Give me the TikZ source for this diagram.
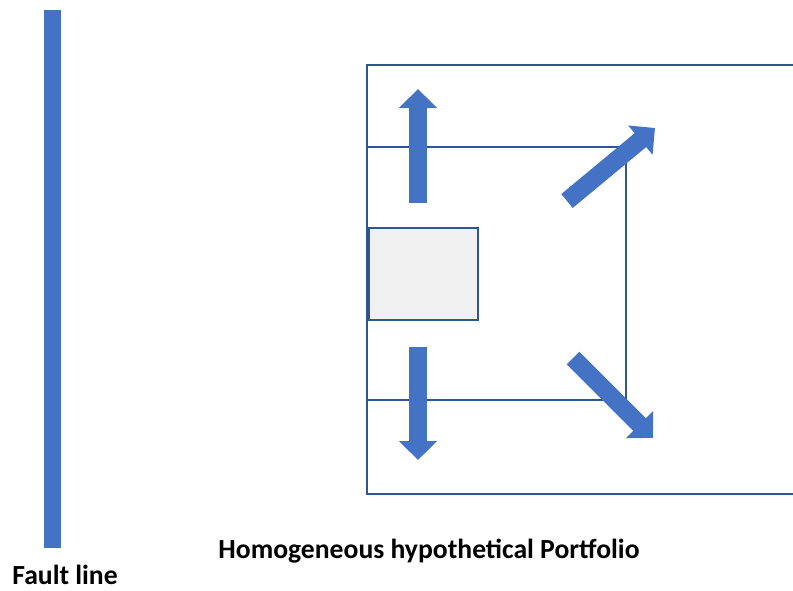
\documentclass[tikz,border=0pt]{standalone}
\usepackage{fontspec}
\setmainfont{Carlito}
\usetikzlibrary{arrows.meta}
\definecolor{boxblue}{HTML}{2F5597}
\definecolor{arrowblue}{HTML}{4472C4}
\definecolor{coregray}{HTML}{F0F0F0}
\begin{document}
\begin{tikzpicture}[x=0.03cm,y=-0.03cm,
	frame/.style={boxblue, line width=1.1pt},
	move/.style={arrowblue, line width=0.54cm, -{Triangle[width=1.11cm,length=0.57cm]}},
	textlabel/.style={font=\fontsize{23.6}{28}\selectfont\bfseries}]
				\useasboundingbox (0,0) rectangle (793,590);
				\fill[arrowblue] (44,10) rectangle (61,548);
				\draw[frame] (793,65) -| (367,494) -- (793,494);
				\draw[frame] (367,147) -| (626,400) -- (367,400);
				\node (core) at (423.5,274) [draw=boxblue, line width=1.1pt, fill=coregray, inner sep=0, minimum width=3.27cm, minimum height=2.76cm] {};
				\coordinate (U0) at (418,203);
				\coordinate (U1) at (418,89);
				\coordinate (D0) at (418,347);
				\coordinate (D1) at (418,460);
				\coordinate (R0) at (567,201);
				\coordinate (R1) at (655,128);
				\coordinate (S0) at (573,358);
				\coordinate (S1) at (653,438);
				\draw[move] (U0) -- (U1);
				\draw[move] (D0) -- (D1);
				\draw[move] (R0) -- (R1);
				\draw[move] (S0) -- (S1);
				\node (title) at (429,551) [textlabel] {Homogeneous hypothetical Portfolio};
				\node (fault) at (65,575) [textlabel] {Fault line};
			\end{tikzpicture}
\end{document}
